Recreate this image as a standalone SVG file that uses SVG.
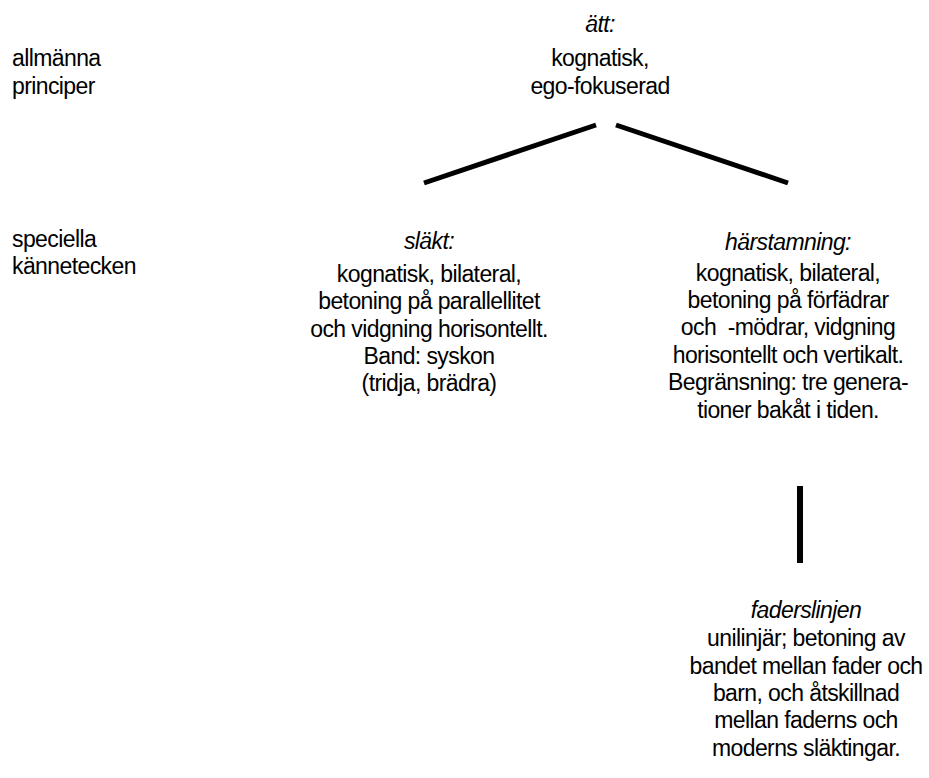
<svg xmlns="http://www.w3.org/2000/svg" width="929" height="778" viewBox="0 0 929 778">
<style>
text{font-family:"Liberation Sans",Arial,sans-serif;font-size:23px;letter-spacing:-0.6px;fill:#000}
.c{text-anchor:middle}
.i{font-style:italic}
.ln{stroke:#000;stroke-width:5;fill:none}
</style>
<rect width="929" height="778" fill="#fff"/>
<g id="label-allmanna">
<text x="12" y="66">allmänna</text>
<text x="12" y="94">principer</text>
</g>
<g id="label-speciella">
<text x="12" y="247">speciella</text>
<text x="12" y="274">kännetecken</text>
</g>
<g id="node-att">
<text class="c i" x="600" y="32">ätt:</text>
<text class="c" x="600" y="66">kognatisk,</text>
<text class="c" x="600" y="94">ego-fokuserad</text>
</g>
<g id="node-slakt">
<text class="c i" x="429" y="249">släkt:</text>
<text class="c" x="429" y="282">kognatisk, bilateral,</text>
<text class="c" x="429" y="309">betoning på parallellitet</text>
<text class="c" x="429" y="337">och vidgning horisontellt.</text>
<text class="c" x="429" y="364">Band: syskon</text>
<text class="c" x="429" y="391">(tridja, brädra)</text>
</g>
<g id="node-harstamning">
<text class="c i" x="788" y="250">härstamning:</text>
<text class="c" x="788" y="281">kognatisk, bilateral,</text>
<text class="c" x="788" y="308">betoning på förfädrar</text>
<text class="c" x="788" y="335" style="white-space:pre">och  -mödrar, vidgning</text>
<text class="c" x="788" y="363">horisontellt och vertikalt.</text>
<text class="c" x="788" y="390">Begränsning: tre genera-</text>
<text class="c" x="788" y="418">tioner bakåt i tiden.</text>
</g>
<g id="node-faderslinjen">
<text class="c i" x="806" y="618">faderslinjen</text>
<text class="c" x="806" y="646">unilinjär; betoning av</text>
<text class="c" x="806" y="674">bandet mellan fader och</text>
<text class="c" x="806" y="701">barn, och åtskillnad</text>
<text class="c" x="806" y="728">mellan faderns och</text>
<text class="c" x="806" y="756">moderns släktingar.</text>
</g>
<g id="connectors">
<line class="ln" x1="424" y1="183" x2="596" y2="125"/>
<line class="ln" x1="616" y1="125" x2="788" y2="183"/>
<line class="ln" x1="800" y1="486" x2="800" y2="563" style="stroke-width:6"/>
</g>
</svg>
